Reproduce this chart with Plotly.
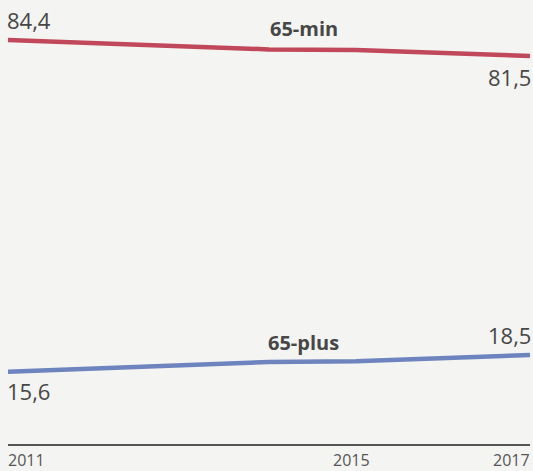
import plotly.graph_objects as go

years = [2011, 2014, 2015, 2017]
min65 = [84.4, 82.7, 82.6, 81.5]
plus65 = [15.6, 17.3, 17.4, 18.5]
series_names = ["65-min", "65-plus"]
tick_years = [2011, 2015, 2017]

RED = "#c0485a"
BLUE = "#6d84bf"
TXT = "#474747"
BG = "#f4f4f2"
FONT = "Open Sans"

fig = go.Figure()
fig.add_trace(go.Scatter(x=years, y=plus65, mode="lines", yaxis="y",
                         line=dict(color=BLUE, width=4.5), hoverinfo="skip"))
fig.add_trace(go.Scatter(x=years, y=min65, mode="lines", yaxis="y2",
                         line=dict(color=RED, width=4.5), hoverinfo="skip"))

def fmt(v):
    return f"{v:.1f}".replace(".", ",")

ann = []
# value labels
ann.append(dict(x=years[0], y=min65[0], xref="x", yref="y2", text=fmt(min65[0]),
                xanchor="left", yanchor="bottom", yshift=3, xshift=-3, showarrow=False,
                font=dict(size=22, color=TXT, family=FONT)))
ann.append(dict(x=years[-1], y=min65[-1], xref="x", yref="y2", text=fmt(min65[-1]),
                xanchor="right", yanchor="top", yshift=-4, xshift=3, showarrow=False,
                font=dict(size=22, color=TXT, family=FONT)))
ann.append(dict(x=years[0], y=plus65[0], xref="x", yref="y", text=fmt(plus65[0]),
                xanchor="left", yanchor="top", yshift=-2, xshift=-3, showarrow=False,
                font=dict(size=22, color=TXT, family=FONT)))
ann.append(dict(x=years[-1], y=plus65[-1], xref="x", yref="y", text=fmt(plus65[-1]),
                xanchor="right", yanchor="bottom", yshift=3, xshift=3, showarrow=False,
                font=dict(size=22, color=TXT, family=FONT)))
# series names
ann.append(dict(x=2014.4, y=min65[1], xref="x", yref="y2", text=f"<b>{series_names[0]}</b>",
                xanchor="center", yanchor="bottom", yshift=5, showarrow=False,
                font=dict(size=20, color=TXT, family=FONT)))
ann.append(dict(x=2014.4, y=plus65[1], xref="x", yref="y", text=f"<b>{series_names[1]}</b>",
                xanchor="center", yanchor="bottom", yshift=4, showarrow=False,
                font=dict(size=20, color=TXT, family=FONT)))
# tick labels
anchors = {2011: ("left", -2), 2015: ("center", -5), 2017: ("right", 2)}
for yr in tick_years:
    xa, xs = anchors[yr]
    ann.append(dict(x=yr, y=0, xref="x", yref="paper", text=str(yr), xanchor=xa, xshift=xs,
                    yanchor="top", yshift=-3, showarrow=False,
                    font=dict(size=16, color="#555555", family=FONT)))

fig.update_layout(
    width=533, height=471,
    margin=dict(l=8, r=3, t=0, b=27),
    paper_bgcolor=BG, plot_bgcolor=BG,
    showlegend=False,
    xaxis=dict(range=[2011, 2017], showgrid=False, zeroline=False, showticklabels=False,
               ticks="", showline=True, linecolor="#555555", linewidth=2, fixedrange=True),
    yaxis=dict(range=[3.05, 80.13], visible=False, fixedrange=True),
    yaxis2=dict(range=[11.21, 91.65], visible=False, overlaying="y", fixedrange=True),
    annotations=ann,
)
fig.write_html(
    "out.html",
    config={"displayModeBar": False},
    post_script="document.body.style.margin='0';document.body.style.background='" + BG + "';document.body.style.overflow='hidden';",
)
